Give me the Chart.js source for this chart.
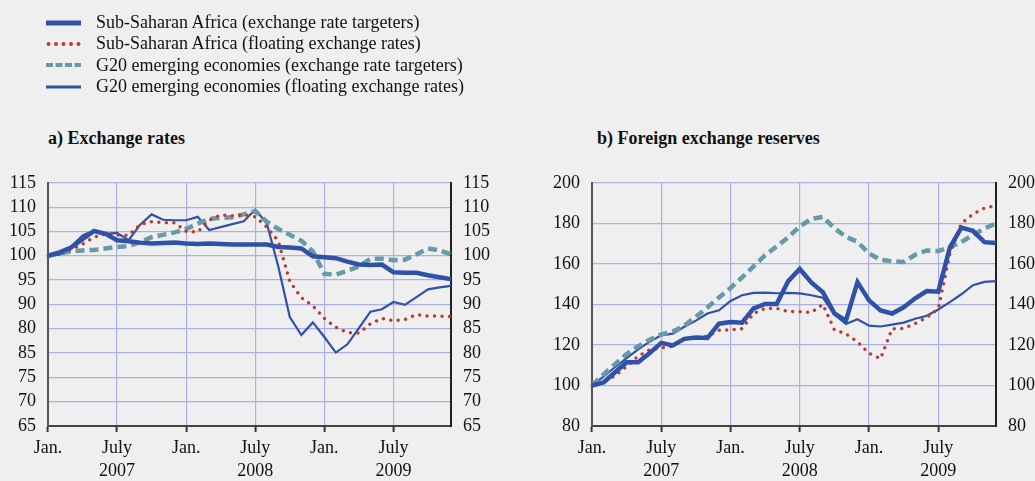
<!DOCTYPE html>
<html>
<head>
    <title>Exchange rates and reserves</title>
    <script src="https://cdn.jsdelivr.net/npm/chart.js"></script>
    <style>
        body {
            margin: 0;
            background-color: #efefef;
            font-family: 'Liberation Serif', 'Times New Roman', serif;
            color: #111;
        }
        .page {
            position: relative;
            width: 1035px;
            height: 481px;
            overflow: hidden;
        }
        .legend {
            position: absolute;
            left: 46px;
            top: 12px;
            font-size: 18px;
        }
        .legend-row {
            height: 21.3px;
            display: flex;
            align-items: center;
        }
        .swatch {
            width: 35px;
            margin-right: 15px;
        }
        .title {
            position: absolute;
            top: 128px;
            font-size: 18px;
            font-weight: bold;
        }
        .panel {
            position: absolute;
            top: 160px;
            height: 321px;
        }
    </style>
</head>
<body>
<div class="page">
    <div class="legend" id="legend"></div>
    <div class="title" style="left:48px">a) Exchange rates</div>
    <div class="title" style="left:597px">b) Foreign exchange reserves</div>
    <div class="panel" style="left:0; width:500px"><canvas id="chartA"></canvas></div>
    <div class="panel" style="left:544px; width:491px"><canvas id="chartB"></canvas></div>
</div>

<script>
    // monthly, Jan 2007 - Dec 2009
    const months = [
        '2007-01','2007-02','2007-03','2007-04','2007-05','2007-06','2007-07','2007-08','2007-09','2007-10','2007-11','2007-12',
        '2008-01','2008-02','2008-03','2008-04','2008-05','2008-06','2008-07','2008-08','2008-09','2008-10','2008-11','2008-12',
        '2009-01','2009-02','2009-03','2009-04','2009-05','2009-06','2009-07','2009-08','2009-09','2009-10','2009-11','2009-12'
    ];
    // shown every 6 months
    const xTickLabels = ['Jan.', ['July', '2007'], 'Jan.', ['July', '2008'], 'Jan.', ['July', '2009']];

    const seriesNames = [
        'Sub-Saharan Africa (exchange rate targeters)',
        'Sub-Saharan Africa (floating exchange rates)',
        'G20 emerging economies (exchange rate targeters)',
        'G20 emerging economies (floating exchange rates)'
    ];

    // a) exchange rates, Jan 2007 = 100
    const rateSsaTarget = [100, 100.7, 101.7, 103.4, 105.1, 104.5, 103.2, 103.0, 102.7, 102.5, 102.6, 102.7,
        102.5, 102.4, 102.5, 102.4, 102.3, 102.3, 102.3, 102.3, 101.8, 101.7, 101.5, 99.9,
        99.7, 99.5, 98.8, 98.2, 98.1, 98.2, 96.6, 96.5, 96.5, 96.0, 95.6, 95.2];
    const rateSsaFloat = [100, 100.4, 101.3, 102.4, 103.8, 104.5, 104.3, 104.2, 106.4, 107.0, 106.8, 106.8,
        105.0, 104.9, 107.3, 108.4, 108.2, 108.4, 108.0, 105.9, 103.0, 94.7, 91.4, 89.7,
        87.1, 85.3, 84.2, 84.1, 86.0, 87.1, 86.6, 86.9, 87.9, 87.6, 87.6, 87.5];
    const rateG20Target = [100, 100.5, 100.9, 101.1, 101.2, 101.5, 101.8, 102.0, 102.8, 103.8, 104.3, 104.8,
        105.5, 106.6, 107.6, 107.8, 107.9, 108.5, 109.2, 107.0, 105.5, 104.3, 103.1, 100.9,
        96.3, 96.1, 96.9, 97.8, 99.4, 99.4, 99.1, 99.2, 100.3, 101.5, 101.1, 100.3];
    const rateG20Float = [100, 100.2, 101.9, 104.2, 105.2, 104.5, 104.7, 103.2, 106.4, 108.5, 107.4, 107.3,
        107.3, 108.0, 105.3, 105.9, 106.5, 107.1, 109.5, 106.7, 97.8, 87.4, 83.7, 86.3,
        83.3, 80.1, 81.8, 85.1, 88.5, 89.0, 90.5, 89.9, 91.5, 93.1, 93.5, 93.8];
    // left axis of panel a carries 80 and 85 the other way round, as printed
    const yTicksLeftA = ['65', '70', '75', '85', '80', '90', '95', '100', '105', '110', '115'];

    // b) foreign exchange reserves, Jan 2007 = 100
    const resSsaTarget = [100, 101.5, 106.5, 111.4, 111.4, 116.0, 121.0, 119.8, 123.0, 123.7, 123.4, 130.5,
        131.3, 131.0, 138.0, 140.2, 140.2, 151.5, 157.5, 150.8, 146.0, 135.6, 132.0, 151.0,
        142.0, 137.0, 135.5, 138.6, 143.0, 146.6, 146.3, 168.0, 177.9, 176.3, 170.7, 170.3];
    const resSsaFloat = [100, 101.8, 104.7, 109.3, 114.5, 117.6, 118.6, 119.3, 123.2, 123.2, 124.3, 127.2,
        127.4, 128.0, 135.5, 138.0, 138.0, 136.5, 136.4, 136.0, 140.0, 127.5, 125.5, 121.5,
        115.8, 113.3, 128.0, 128.2, 130.6, 133.5, 137.8, 165.0, 180.0, 184.5, 187.5, 188.8];
    const resG20Target = [100, 105.5, 110.5, 115.5, 119.3, 122.6, 125.2, 126.6, 129.5, 133.9, 138.5, 143.4,
        148.1, 153.3, 158.8, 164.3, 168.6, 173.1, 178.5, 182.2, 183.2, 177.6, 173.3, 170.9,
        165.1, 162.0, 161.3, 160.9, 164.5, 166.6, 166.3, 168.3, 170.8, 174.2, 177.5, 180.0];
    const resG20Float = [100, 104.3, 109.1, 113.5, 117.8, 121.6, 124.7, 125.6, 129.0, 132.0, 135.5, 137.1,
        141.7, 144.5, 145.7, 145.8, 145.5, 145.7, 145.4, 144.5, 143.3, 135.0, 130.3, 132.7,
        129.5, 129.1, 130.0, 131.0, 132.9, 134.4, 137.5, 141.1, 145.0, 149.5, 151.1, 151.5];

    const BLUE = '#2f52a8';
    const RED = '#bd3a2e';
    const TEAL = '#6799a8';
    const GRID = '#aab0e6';
    const FONT = { family: "'Liberation Serif', 'Times New Roman', serif", size: 18 };

    const styles = [
        { borderColor: BLUE, borderWidth: 4.5 },
        { borderColor: RED, borderWidth: 3.5, borderDash: [0, 7.5], borderCapStyle: 'round' },
        { borderColor: TEAL, borderWidth: 4.5, borderDash: [9, 5] },
        { borderColor: BLUE, borderWidth: 2.2 }
    ];

    // html legend
    const legend = document.getElementById('legend');
    seriesNames.forEach((name, i) => {
        const row = document.createElement('div');
        row.className = 'legend-row';
        const c = document.createElement('canvas');
        c.width = 35; c.height = 10;
        c.className = 'swatch';
        const g = c.getContext('2d');
        g.strokeStyle = styles[i].borderColor;
        g.lineWidth = i === 0 ? 5 : (i === 3 ? 3 : 4);
        if (i === 1) { g.setLineDash([0, 7.5]); g.lineCap = 'round'; g.lineWidth = 4; }
        if (i === 2) g.setLineDash([7, 2.5]);
        g.beginPath();
        g.moveTo(i === 1 ? 2.5 : 0, 5);
        g.lineTo(35, 5);
        g.stroke();
        row.appendChild(c);
        const t = document.createElement('span');
        t.textContent = name;
        row.appendChild(t);
        legend.appendChild(row);
    });

    function makeChart(id, seriesList, min, max, step, leftLabels, leftWidth, rightWidth) {
        const ctx = document.getElementById(id).getContext('2d');
        return new Chart(ctx, {
            type: 'line',
            data: {
                labels: months,
                datasets: seriesList.map((d, i) => Object.assign({
                    label: seriesNames[i],
                    data: d,
                    pointRadius: 0,
                    tension: 0,
                    fill: false
                }, styles[i]))
            },
            options: {
                responsive: true,
                maintainAspectRatio: false,
                animation: false,
                layout: { padding: { top: 16 } },
                plugins: { legend: { display: false }, tooltip: { enabled: false } },
                scales: {
                    x: {
                        offset: false,
                        grid: { color: GRID, lineWidth: 1.2, tickColor: '#333', tickLength: 6, tickWidth: 2 },
                        border: { display: true, color: '#444', width: 2 },
                        ticks: {
                            autoSkip: false,
                            maxRotation: 0,
                            padding: 5,
                            color: '#111',
                            font: Object.assign({ lineHeight: 1.28 }, FONT),
                            callback: (v, i) => i % 6 === 0 ? xTickLabels[i / 6] : null
                        },
                        afterFit: s => { s.height = 55; }
                    },
                    y: {
                        position: 'left',
                        min: min, max: max,
                        grid: { color: GRID, lineWidth: 1.2, drawTicks: false },
                        border: { display: true, color: '#555', width: 2 },
                        ticks: {
                            stepSize: step, autoSkip: false, padding: 12, color: '#111', font: FONT,
                            callback: v => leftLabels ? leftLabels[(v - min) / step] : v
                        },
                        afterFit: s => { s.width = leftWidth; }
                    },
                    y2: {
                        position: 'right',
                        min: min, max: max,
                        grid: { display: false, drawTicks: false },
                        border: { display: true, color: '#222', width: 2 },
                        ticks: { stepSize: step, autoSkip: false, padding: 12, color: '#111', font: FONT },
                        afterFit: s => { s.width = rightWidth; }
                    }
                }
            }
        });
    }

    makeChart('chartA', [rateSsaTarget, rateSsaFloat, rateG20Target, rateG20Float], 65, 115, 5, yTicksLeftA, 48, 49);
    makeChart('chartB', [resSsaTarget, resSsaFloat, resG20Target, resG20Float], 80, 200, 20, null, 48, 39);
</script>
</body>
</html>
